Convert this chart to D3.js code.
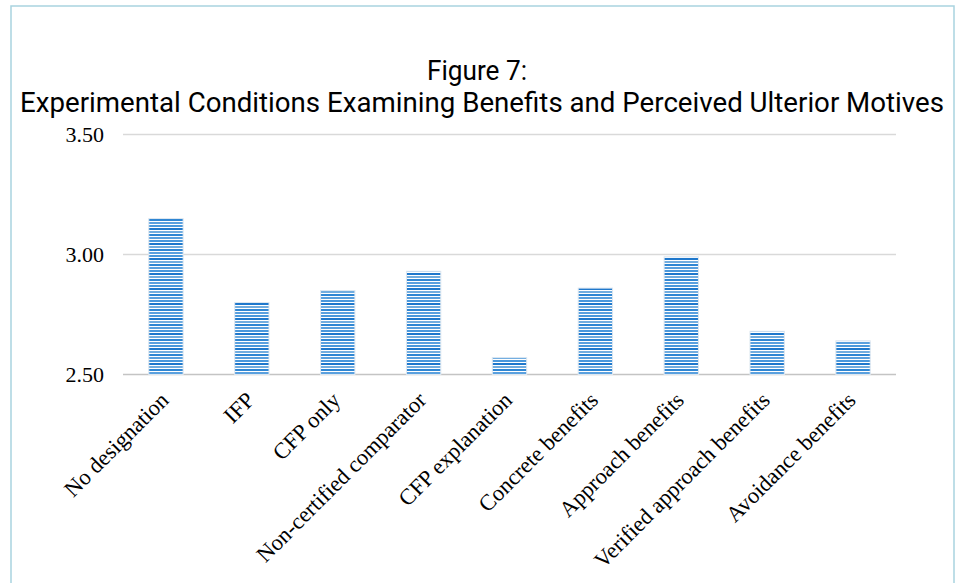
<!DOCTYPE html>
<html>
<head>
<meta charset="utf-8">
<script src="https://cdn.jsdelivr.net/npm/d3@7"></script>
<style>
html,body{margin:0;padding:0;background:#fff;}
svg{display:block;}
</style>
</head>
<body>
<script>
const categories = ["No designation","IFP","CFP only","Non-certified comparator","CFP explanation","Concrete benefits","Approach benefits","Verified approach benefits","Avoidance benefits"];
const values = [3.15, 2.80, 2.85, 2.93, 2.57, 2.86, 2.99, 2.68, 2.64];
const yTicks = [2.5, 3.0, 3.5];
const titleLines = ["Figure 7:", "Experimental Conditions Examining Benefits and Perceived Ulterior Motives"];

const W = 957, H = 583;
const svg = d3.select("body").append("svg").attr("width", W).attr("height", H);

// frame
svg.append("rect").attr("x", 11).attr("y", 6).attr("width", 943).attr("height", H + 10)
  .attr("fill", "none").attr("stroke", "#a9d3df").attr("stroke-width", 1.5);

// stripe pattern
const defs = svg.append("defs");
const pat = defs.append("pattern").attr("id", "stripes").attr("patternUnits", "userSpaceOnUse")
  .attr("width", 12).attr("height", 15);
pat.append("rect").attr("width", 12).attr("height", 15).attr("fill", "#ffffff");
const stripeCols = ["#4a98dc", "#1f78cc", "#72addf", "#2f86d3", "#5aa0de"];
stripeCols.forEach((c, i) => {
  pat.append("rect").attr("x", 0).attr("y", i * 3).attr("width", 12).attr("height", 2).attr("fill", c);
});

const margin = {left: 123, right: 61, top: 134.5, bottom: 208.5};
const x = d3.scaleBand().domain(categories).range([margin.left, W - margin.right]).paddingInner(0.6).paddingOuter(0.3);
const y = d3.scaleLinear().domain([2.5, 3.5]).range([H - margin.bottom, margin.top]);

// gridlines
svg.append("g").selectAll("line").data(yTicks).join("line")
  .attr("x1", margin.left).attr("x2", W - margin.right)
  .attr("y1", d => y(d)).attr("y2", d => y(d))
  .attr("stroke", d => d === 2.5 ? "#c4c4c4" : "#d9d9d9").attr("stroke-width", 1.5);

// y labels
svg.append("g").selectAll("text").data(yTicks).join("text")
  .attr("x", 104).attr("y", d => y(d)).attr("dy", "0.35em")
  .attr("text-anchor", "end")
  .attr("font-family", "'Liberation Serif', 'Times New Roman', serif")
  .attr("font-size", 22).attr("fill", "#000")
  .text(d => d3.format(".2f")(d));

// bars
svg.append("g").selectAll("rect").data(categories).join("rect")
  .attr("x", d => x(d)).attr("width", x.bandwidth())
  .attr("y", (d, i) => y(values[i])).attr("height", (d, i) => y(2.5) - y(values[i]))
  .attr("fill", "url(#stripes)").attr("stroke", "#dde7f0").attr("stroke-width", 1);

// x labels
svg.append("g").selectAll("text").data(categories).join("text")
  .attr("transform", d => `translate(${x(d) + x.bandwidth() / 2 + 4},${y(2.5) + 27}) rotate(-45)`)
  .attr("text-anchor", "end")
  .attr("font-family", "'Liberation Serif', 'Times New Roman', serif")
  .attr("font-size", 22.5).attr("fill", "#000")
  .text(d => d);

// title
const tg = svg.append("g").attr("font-family", "Roboto, 'Noto Sans', sans-serif").attr("fill", "#000");
tg.append("text").attr("x", 477).attr("y", 80).attr("text-anchor", "middle").attr("font-size", 27)
  .attr("textLength", 100).attr("lengthAdjust", "spacingAndGlyphs").text(titleLines[0]);
tg.append("text").attr("x", 482).attr("y", 112).attr("text-anchor", "middle").attr("font-size", 27)
  .attr("textLength", 924).attr("lengthAdjust", "spacingAndGlyphs").text(titleLines[1]);
</script>
</body>
</html>
